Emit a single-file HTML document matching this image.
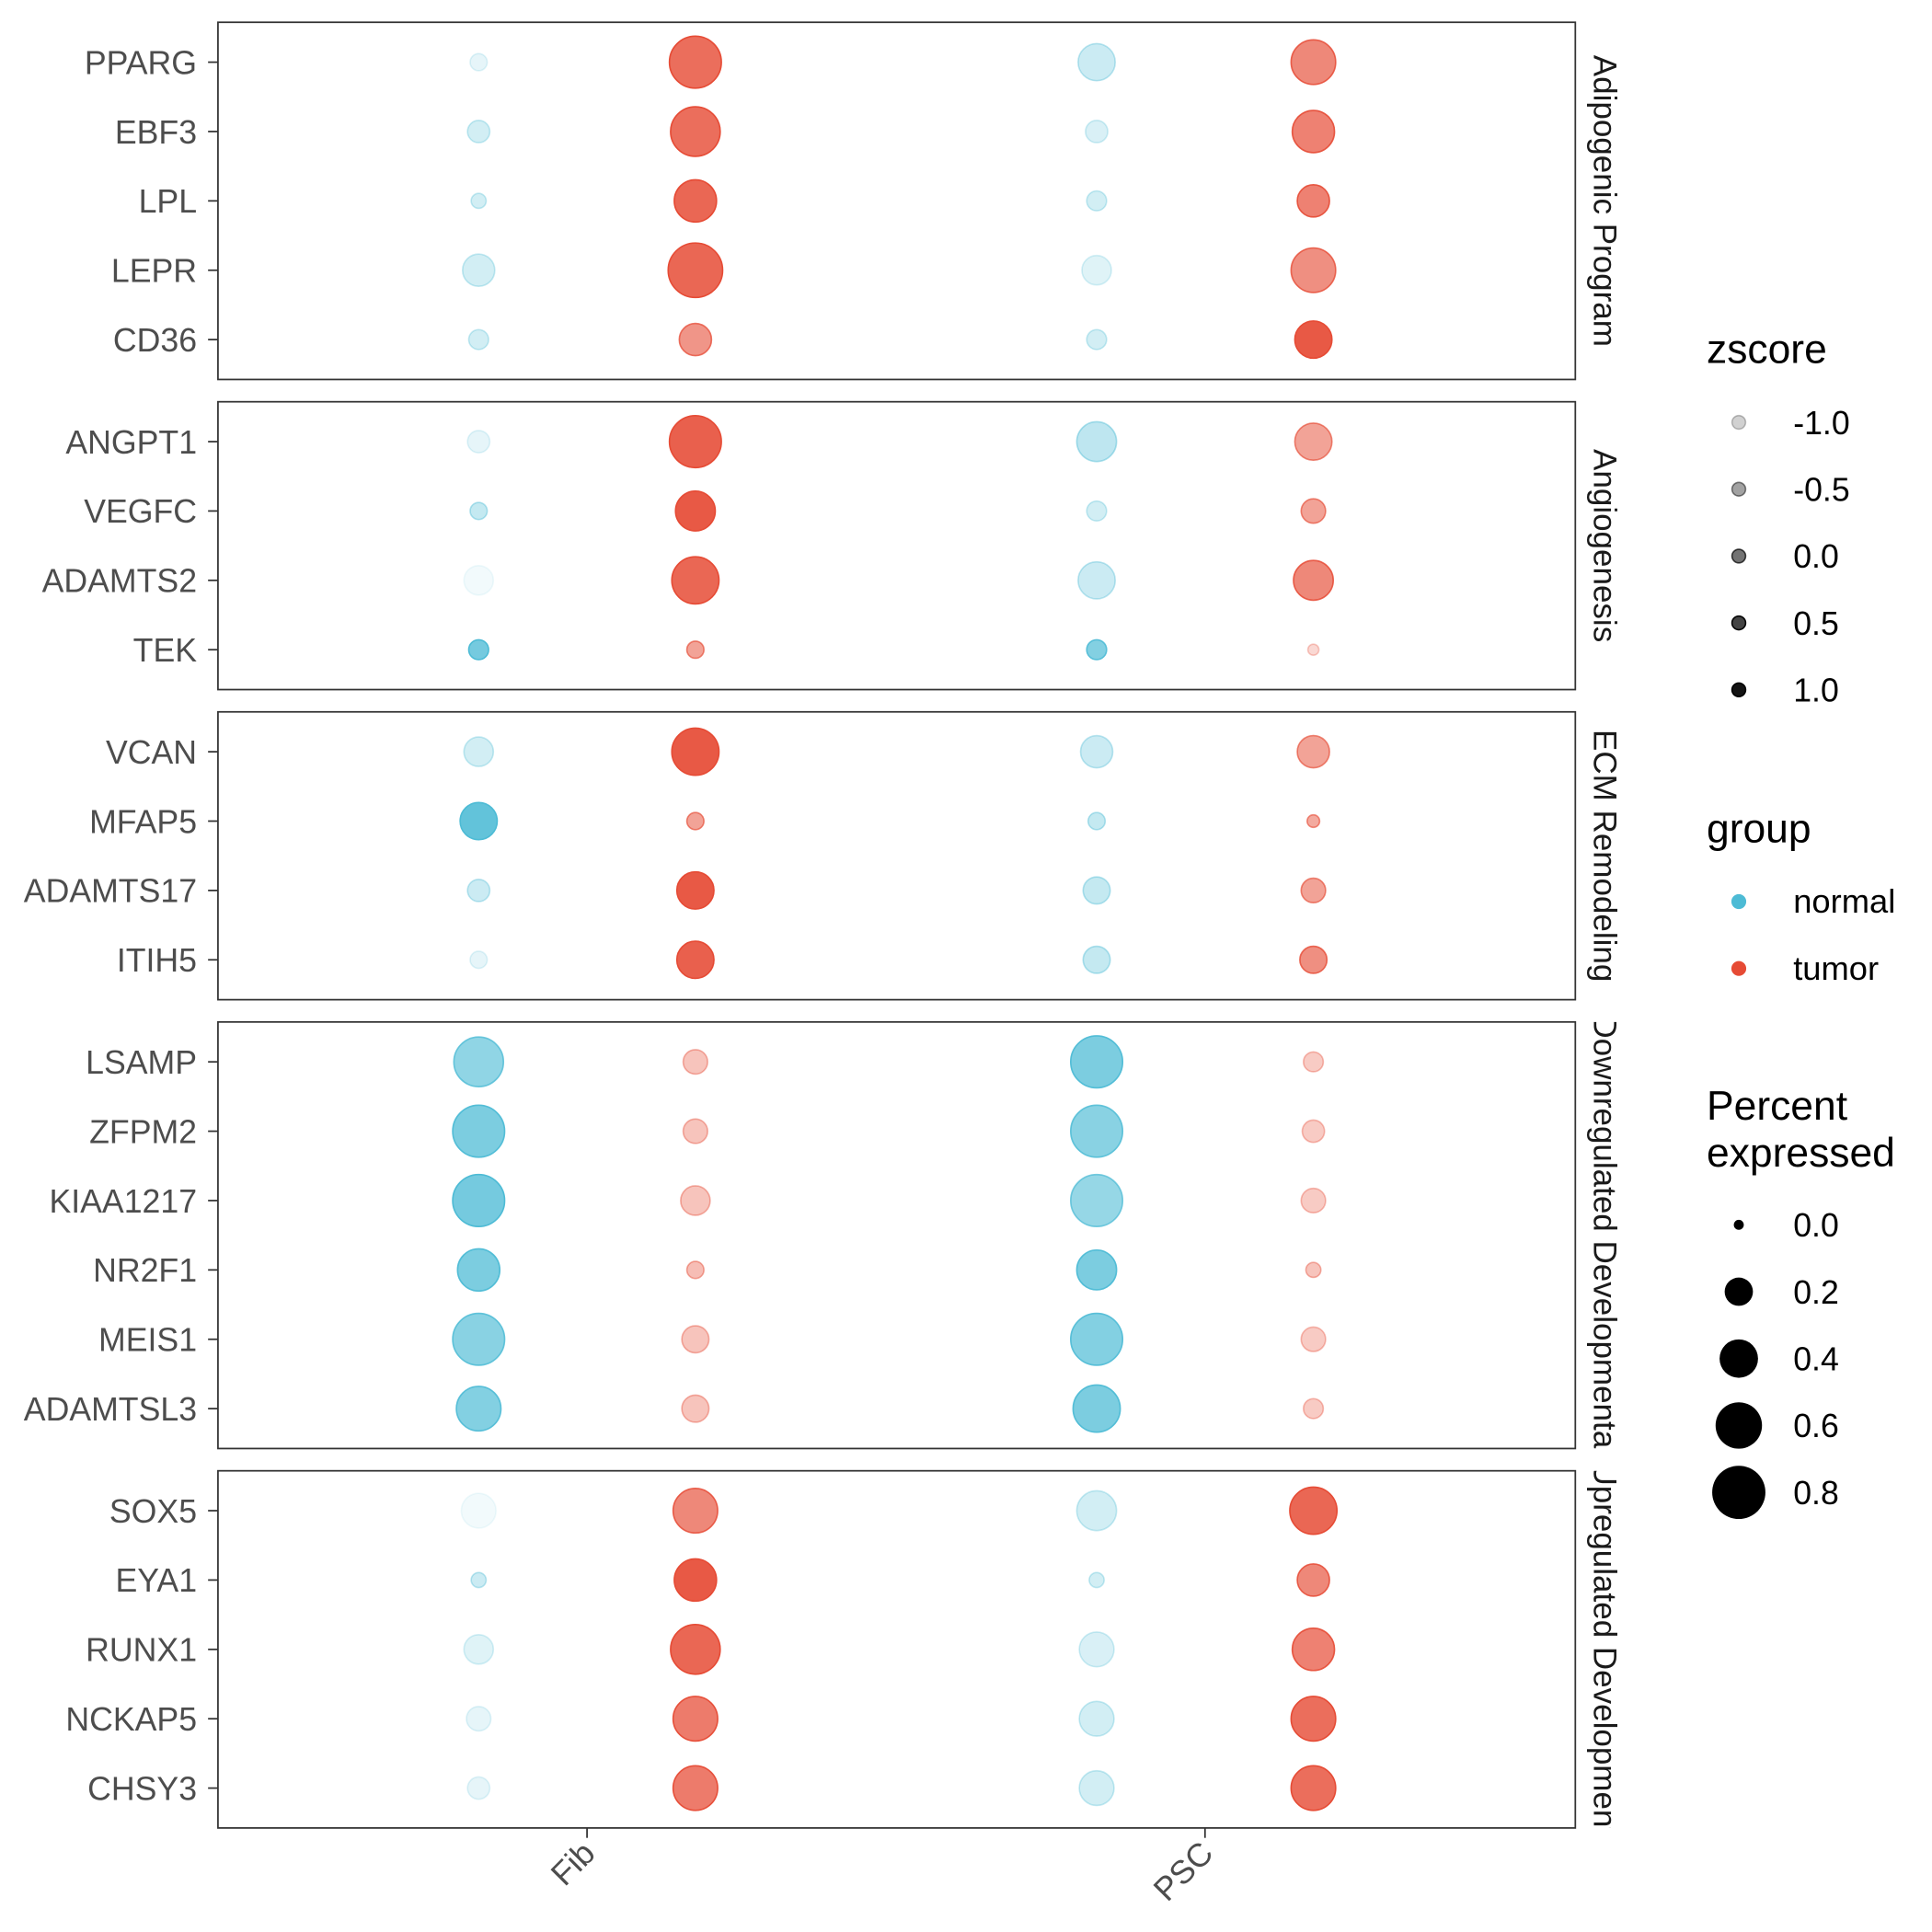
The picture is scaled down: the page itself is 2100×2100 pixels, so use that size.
<!DOCTYPE html>
<html><head><meta charset="utf-8"><style>html,body{margin:0;padding:0;background:#fff}svg{display:block}text{font-family:"Liberation Sans",sans-serif}</style></head>
<body>
<svg id="chart" width="2100" height="2100" viewBox="0 0 1560 1560" xmlns="http://www.w3.org/2000/svg">
<g id="plot"></g>
<g id="legend">
  <text x="1378" y="293" font-size="33">zscore</text>
  <g id="zleg"></g>
  <text x="1378" y="680" font-size="33">group</text>
  <circle cx="1404" cy="728" r="6" fill="#4DBBD5"/>
  <text x="1448" y="737" font-size="27">normal</text>
  <circle cx="1404" cy="782" r="6" fill="#E64B35"/>
  <text x="1448" y="791" font-size="27">tumor</text>
  <text x="1378" y="904" font-size="33">Percent</text>
  <text x="1378" y="942" font-size="33">expressed</text>
  <g id="pleg"></g>
</g>
</svg>
<script>
const groups = ["Adipogenic Program","Angiogenesis","ECM Remodeling","Downregulated Developmental","Upregulated Development"];
const genes = [
 ["PPARG","EBF3","LPL","LEPR","CD36"],
 ["ANGPT1","VEGFC","ADAMTS2","TEK"],
 ["VCAN","MFAP5","ADAMTS17","ITIH5"],
 ["LSAMP","ZFPM2","KIAA1217","NR2F1","MEIS1","ADAMTSL3"],
 ["SOX5","EYA1","RUNX1","NCKAP5","CHSY3"]
];
const cellTypes = ["Fib","PSC"];
const conditions = ["normal","tumor"];
// per gene: [normalFib, tumorFib, normalPSC, tumorPSC]
const pct = [
 [0.05,0.76,0.37,0.55],[0.11,0.69,0.11,0.49],[0.03,0.49,0.08,0.27],[0.27,0.84,0.22,0.55],[0.08,0.27,0.08,0.37],
 [0.11,0.76,0.43,0.37],[0.05,0.43,0.08,0.14],[0.22,0.62,0.37,0.43],[0.08,0.05,0.08,0.0],
 [0.22,0.62,0.27,0.27],[0.37,0.05,0.05,0.01],[0.11,0.37,0.18,0.14],[0.05,0.37,0.18,0.18],
 [0.69,0.14,0.76,0.08],[0.76,0.14,0.76,0.11],[0.76,0.22,0.76,0.14],[0.49,0.05,0.43,0.03],[0.76,0.18,0.76,0.14],[0.55,0.18,0.62,0.08],
 [0.32,0.55,0.43,0.62],[0.03,0.49,0.03,0.27],[0.22,0.69,0.32,0.49],[0.14,0.55,0.32,0.55],[0.11,0.55,0.32,0.55]
];
const zs = [
 [-1.1,0.7,-0.7,0.3],[-0.8,0.7,-0.9,0.4],[-0.8,0.8,-0.8,0.4],[-0.8,0.8,-1.0,0.2],[-0.8,0.1,-0.8,1.0],
 [-1.1,0.9,-0.5,-0.1],[-0.6,1.0,-0.8,-0.1],[-1.3,0.8,-0.7,0.3],[0.6,-0.1,0.4,-0.9],
 [-0.8,1.0,-0.7,-0.1],[0.9,-0.1,-0.6,-0.2],[-0.7,1.0,-0.6,-0.1],[-1.1,0.9,-0.6,0.2],
 [0.2,-0.6,0.5,-0.7],[0.5,-0.6,0.3,-0.7],[0.6,-0.6,0.1,-0.7],[0.5,-0.5,0.5,-0.6],[0.3,-0.6,0.4,-0.7],[0.4,-0.6,0.5,-0.7],
 [-1.3,0.3,-0.8,0.8],[-0.7,1.0,-0.8,0.3],[-1.0,0.8,-0.9,0.4],[-1.1,0.5,-0.8,0.7],[-1.1,0.5,-0.8,0.7]
];
const zLegendTicks = [-1.0,-0.5,0.0,0.5,1.0];
const pLegendTicks = [0.0,0.2,0.4,0.6,0.8];

const NS="http://www.w3.org/2000/svg";
const colors={normal:"#4DBBD5",tumor:"#E64B35"};
function rScale(p){return Math.sqrt(20+552*p);}
function aScale(z){return Math.max(0.06,Math.min(0.95,0.55+0.37*z));}
const L=176,R=1272,rowH=56,EXP=0.575;
const cellX = i => 474 + i*499;
function xPos(ci,gi){return cellX(ci)+(gi===0?-87.5:87.5);}
function mk(tag,attrs,parent){const e=document.createElementNS(NS,tag);for(const k in attrs)e.setAttribute(k,attrs[k]);parent.appendChild(e);return e;}
const plot=document.getElementById('plot');
const defs=mk('defs',{},plot);
let yTop=18, gIdx=0;
genes.forEach((list,pi)=>{
  const h=(list.length-1+2*EXP)*rowH;
  const panel=mk('rect',{x:L,y:yTop,width:R-L,height:h,fill:'none',stroke:'#333','stroke-width':1.3},plot);
  
  
  const cp=mk('clipPath',{id:'cp'+pi},defs);
  mk('rect',{x:1274,y:yTop,width:60,height:h},cp);
  const sg=mk('g',{'clip-path':'url(#cp'+pi+')'},plot);
  const st=mk('text',{x:1287,y:yTop+h/2,'font-size':26,'text-anchor':'middle',transform:'rotate(90 1287 '+(yTop+h/2)+')',fill:'#1a1a1a'},sg);
  
  
  st.textContent=groups[pi];
  list.forEach((g,ri)=>{
    const y=yTop+EXP*rowH+ri*rowH;
    const tk=mk('line',{x1:168,x2:176,y1:y,y2:y,stroke:'#333','stroke-width':1.3},plot);
    
    
    const lb=mk('text',{x:159,y:y+9.5,'font-size':26.5,'text-anchor':'end',fill:'#4d4d4d'},plot);
    
    
    lb.textContent=g;
    for(let k=0;k<4;k++){
      const ci=Math.floor(k/2),gi=k%2,cond=conditions[gi];
      const a=aScale(zs[gIdx][k]);
      const c=mk('circle',{cx:xPos(ci,gi),cy:y,r:rScale(pct[gIdx][k]),fill:colors[cond],'fill-opacity':a,stroke:colors[cond],'stroke-opacity':Math.min(1,a*1.3),'stroke-width':1.2},plot);
      
      
    }
    gIdx++;
  });
  yTop+=h+18;
});
const bottom=yTop-18;
cellTypes.forEach((c,i)=>{
  const x=cellX(i);
  const t=mk('line',{x1:x,x2:x,y1:bottom,y2:bottom+8,stroke:'#333','stroke-width':1.3},plot);
  
  
  const lb=mk('text',{x:x+8,y:bottom+22,'font-size':26.5,'text-anchor':'end',fill:'#4d4d4d',transform:'rotate(-45 '+(x+8)+' '+(bottom+22)+')'},plot);
  
  
  lb.textContent=c;
});
const zl=document.getElementById('zleg');
zLegendTicks.forEach((z,i)=>{
  const y=341+i*54;
  const c=mk('circle',{cx:1404,cy:y,r:5.5,fill:'#000','fill-opacity':aScale(z),stroke:'#000','stroke-opacity':Math.min(1,aScale(z)*1.3),'stroke-width':1.2},zl);
  
  
  const t=mk('text',{x:1448,y:y+9.5,'font-size':26.5},zl);
  
  
  t.textContent=z.toFixed(1);
});
const pl=document.getElementById('pleg');
pLegendTicks.forEach((p,i)=>{
  const y=989+i*54;
  const c=mk('circle',{cx:1404,cy:y,r:rScale(p)*(p===0?0.9:1),fill:'#000'},pl);
  
  
  const t=mk('text',{x:1448,y:y+9.5,'font-size':26.5},pl);
  
  
  t.textContent=p.toFixed(1);
});
</script>
</body></html>
